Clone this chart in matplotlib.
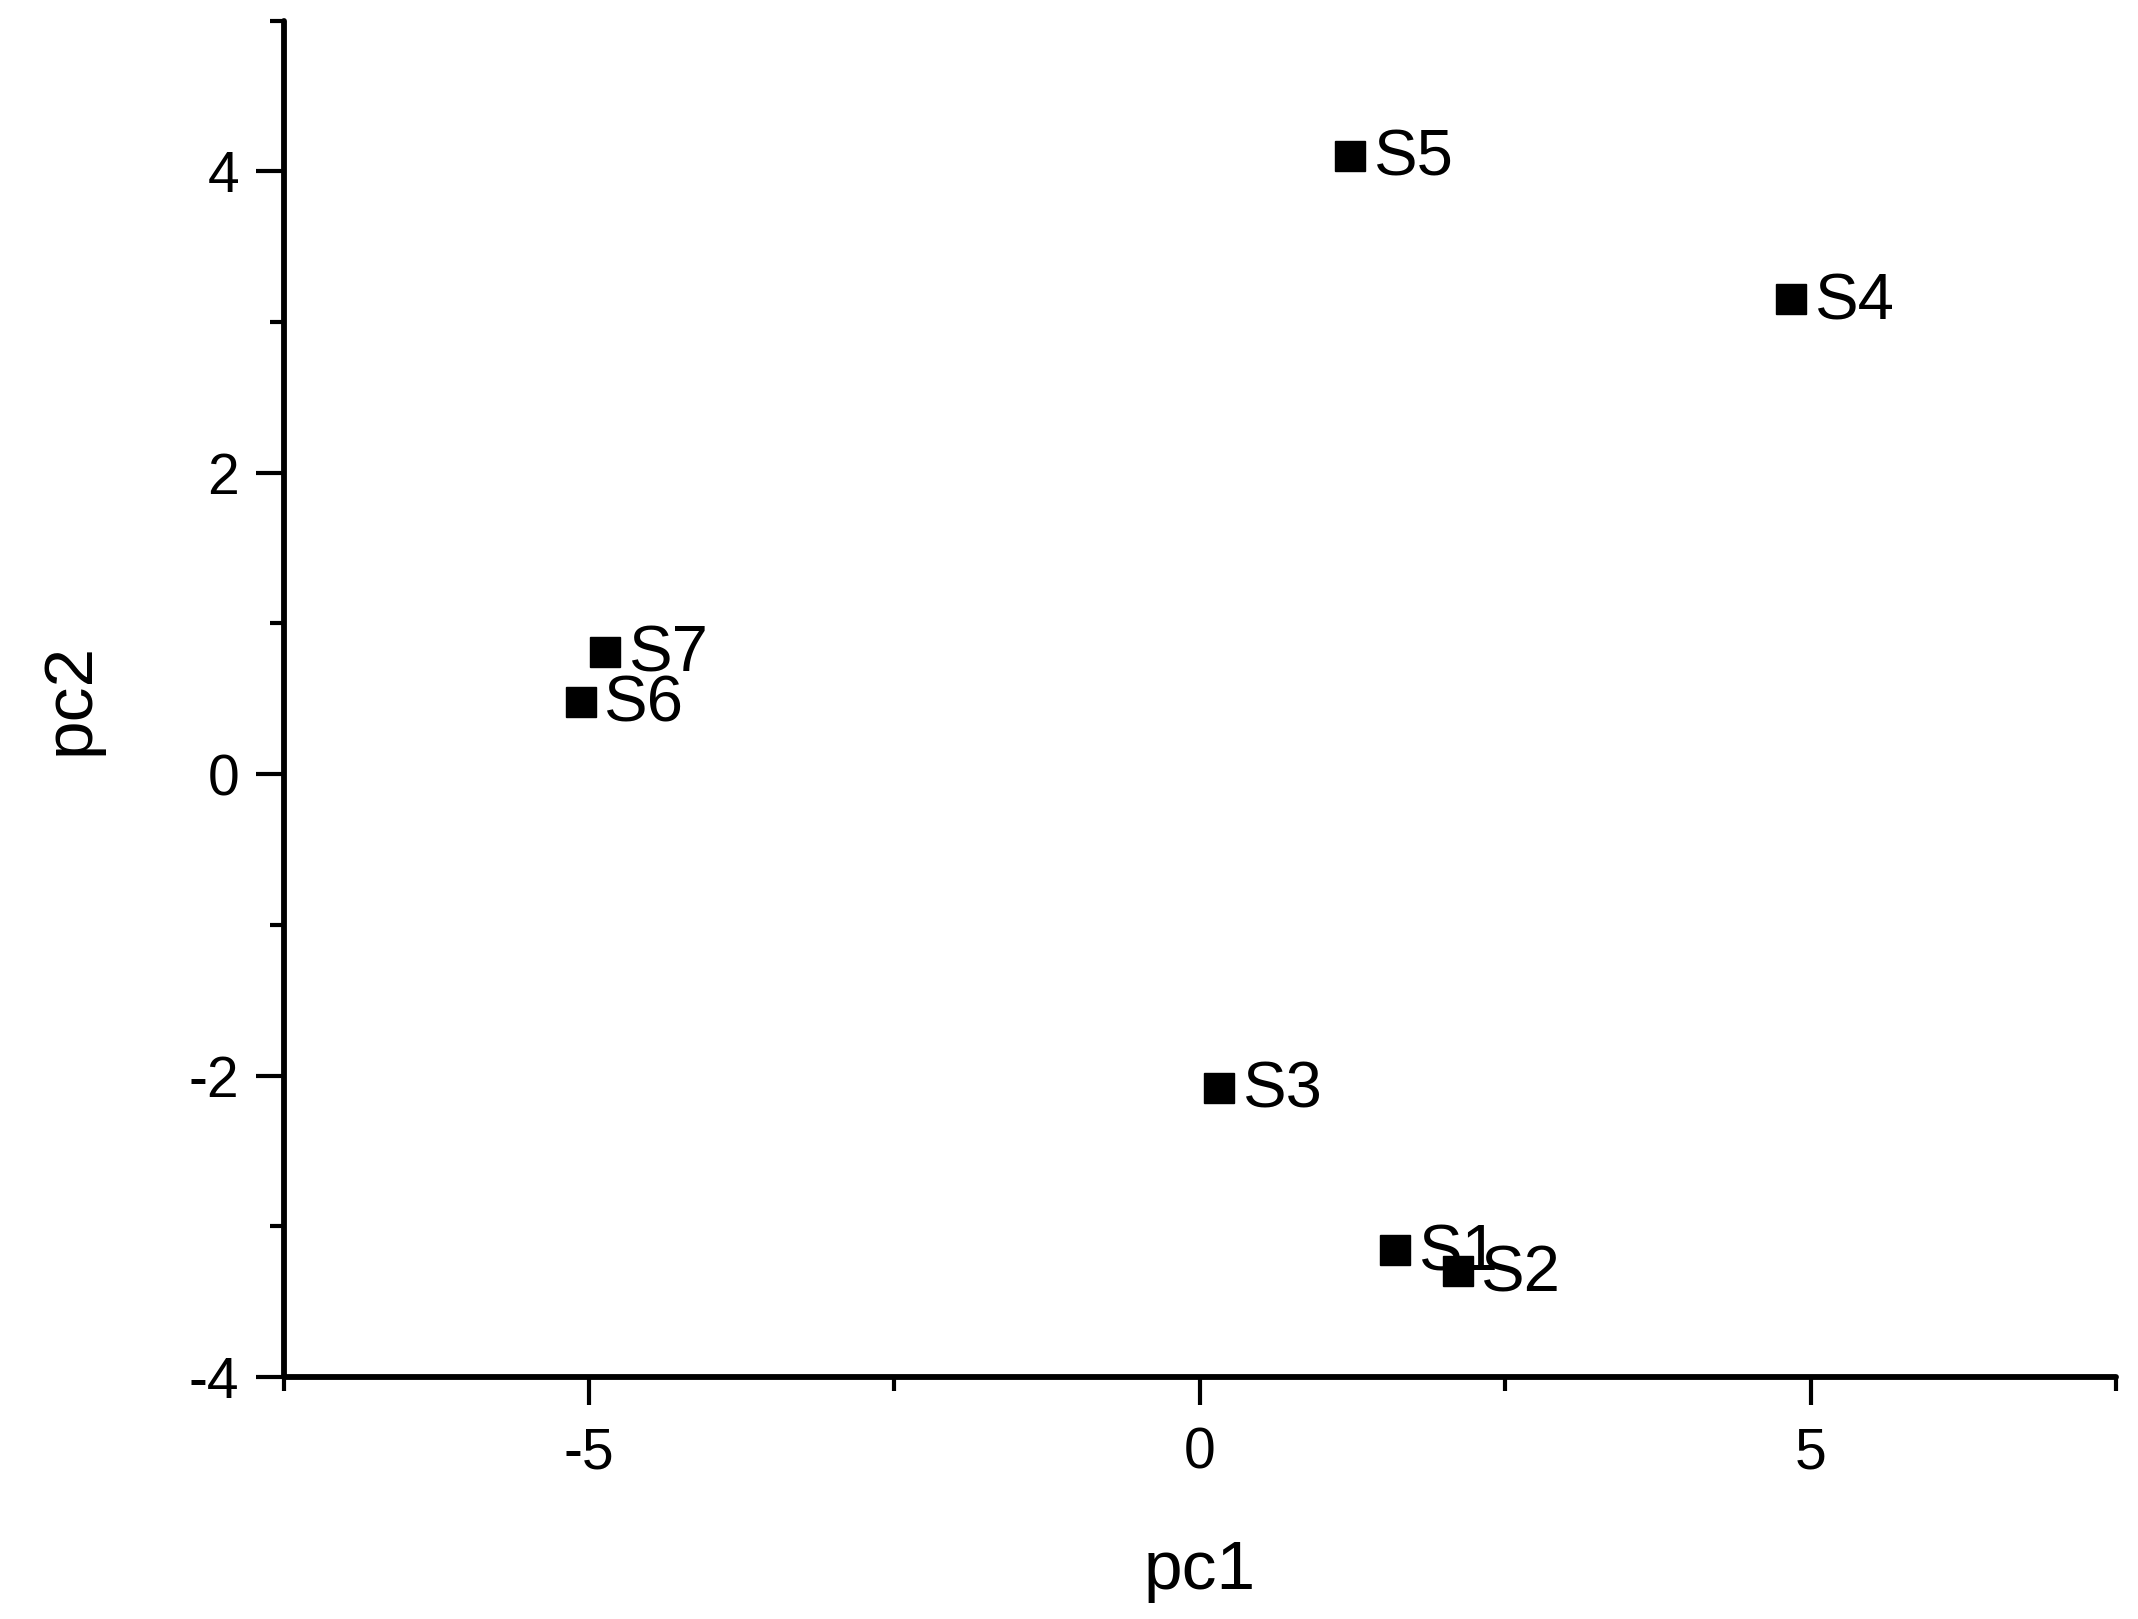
import matplotlib
matplotlib.use("Agg")
import matplotlib.pyplot as plt
from matplotlib.ticker import MultipleLocator

plt.rcParams['font.family'] = ['Liberation Sans', 'DejaVu Sans']
plt.rcParams['axes.unicode_minus'] = False

labels = ["S1", "S2", "S3", "S4", "S5", "S6", "S7"]
pc1 = [1.60, 2.11, 0.16, 4.84, 1.23, -5.07, -4.87]
pc2 = [-3.16, -3.30, -2.08, 3.15, 4.10, 0.48, 0.81]

fig = plt.figure(figsize=(21.38, 16.19), dpi=100)
ax = fig.add_axes([0.1327, 0.1495, 0.9897 - 0.1327, 0.9873 - 0.1495])

ax.plot(pc1, pc2, linestyle='none', marker='s', markersize=21.5, color='black')
for x, y, t in zip(pc1, pc2, labels):
    ax.annotate(t, (x, y), xytext=(17, -2), textcoords='offset points',
                fontsize=47, va='center', ha='left')

ax.set_xlim(-7.5, 7.5)
ax.set_ylim(-4, 5)
ax.xaxis.set_major_locator(MultipleLocator(5))
ax.xaxis.set_minor_locator(MultipleLocator(2.5))
ax.yaxis.set_major_locator(MultipleLocator(2))
ax.yaxis.set_minor_locator(MultipleLocator(1))

for s in ['top', 'right']:
    ax.spines[s].set_visible(False)
for s in ['left', 'bottom']:
    ax.spines[s].set_linewidth(4.2)
    ax.spines[s].set_capstyle('round')

ax.tick_params(which='major', direction='out', length=20, width=3, labelsize=41)
ax.tick_params(axis='x', which='major', pad=16)
ax.tick_params(axis='y', which='major', pad=12)
ax.tick_params(which='minor', direction='out', length=10, width=3)

ax.set_xlabel('pc1', fontsize=50, labelpad=42)
ax.set_ylabel('pc2', fontsize=50, labelpad=62)

fig.savefig('out.png', dpi=100)
